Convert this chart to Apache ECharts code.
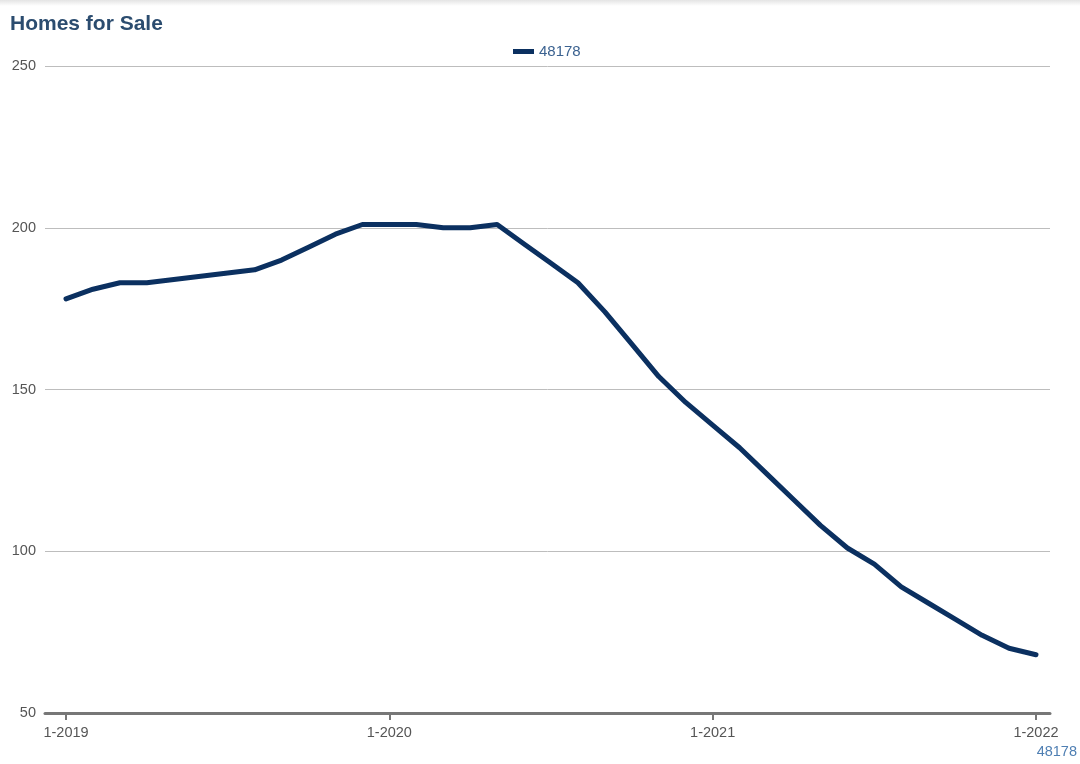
<!DOCTYPE html>
<html>
<head>
<meta charset="utf-8">
<script src="https://cdn.jsdelivr.net/npm/echarts@6/dist/echarts.min.js"></script>
<style>
  html, body { margin: 0; padding: 0; background: #fff; }
  #chart { width: 1080px; height: 764px; }
  .topshade { position: absolute; left: 0; top: 0; width: 1080px; height: 6px;
    background: linear-gradient(#e4e4e4, #fff); }
</style>
</head>
<body>
<div class="topshade"></div>
<div id="chart"></div>
<script>
// month index 0 = 1-2019 ... 36 = 1-2022
const seriesName = "48178";
const homes = [178, 181, 183, 183, 184, 185, 186, 187, 190, 194, 198, 201,
  201, 201, 200, 200, 201, 195, 189, 183, 174, 164, 154, 146, 139, 132, 124,
  116, 108, 101, 96, 89, 84, 79, 74, 70, 68];
const tickMonths = [0, 12, 24, 36];
const tickLabels = ["1-2019", "1-2020", "1-2021", "1-2022"];

const chart = echarts.init(document.getElementById("chart"));
chart.setOption({
  animation: false,
  title: {
    text: "Homes for Sale",
    left: 5, top: 9,
    textStyle: { color: "#2b4c6f", fontSize: 21, fontWeight: "bold", fontFamily: "Arial, Liberation Sans" }
  },
  legend: {
    top: 39, left: 508,
    itemWidth: 21, itemHeight: 5,
    itemGap: 6,
    icon: "rect",
    textStyle: { color: "#3b6290", fontSize: 15, fontFamily: "Arial, Liberation Sans" },
    data: [seriesName]
  },
  grid: { left: 45, right: 30, top: 66, bottom: 51, containLabel: false },
  xAxis: {
    type: "value",
    min: -0.78, max: 36.52,
    axisLine: { show: true, lineStyle: { color: "#777", width: 3 } },
    axisTick: { show: true, customValues: tickMonths, length: 7, lineStyle: { color: "#777", width: 2 } },
    axisLabel: {
      customValues: tickMonths,
      color: "#555", fontSize: 14.5, margin: 12, fontFamily: "Arial, Liberation Sans",
      formatter: v => tickLabels[tickMonths.indexOf(Math.round(v))] || ""
    },
    splitLine: { show: false }
  },
  yAxis: {
    type: "value",
    min: 50, max: 250, interval: 50,
    axisLine: { show: false },
    axisTick: { show: false },
    axisLabel: { color: "#555", fontSize: 14.5, margin: 9, fontFamily: "Arial, Liberation Sans" },
    splitLine: { lineStyle: { color: "#bdbdbd", width: 1 } }
  },
  graphic: [{
    type: "text",
    right: 3, top: 744,
    style: { text: seriesName, fill: "#4f7fb3", fontSize: 14.5, fontFamily: "Arial, Liberation Sans" }
  }],
  series: [{
    name: seriesName,
    type: "line",
    data: homes.map((v, i) => [i, v]),
    showSymbol: false,
    lineStyle: { color: "#0b3060", width: 5, join: "round", cap: "round" },
    itemStyle: { color: "#0b3060" }
  }]
});
</script>
</body>
</html>
